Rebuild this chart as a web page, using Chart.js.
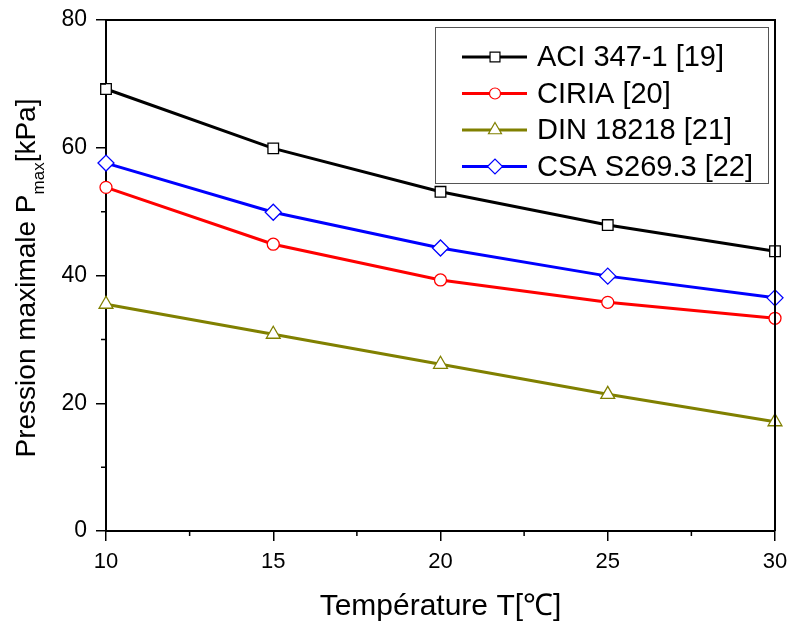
<!DOCTYPE html>
<html>
<head>
<meta charset="utf-8">
<script src="https://cdn.jsdelivr.net/npm/chart.js@4"></script>
<style>
  html, body { margin: 0; padding: 0; background: #fff; }
  #wrap { width: 790px; height: 625px; }
</style>
</head>
<body>
<div id="wrap"><canvas id="pressureChart" width="790" height="625"></canvas></div>
<script>
// Temperature (°C)
const temperatures = [10, 15, 20, 25, 30];

// Maximum pressure Pmax (kPa) per standard
const aci347 = [69.2, 59.9, 53.1, 47.9, 43.8];
const ciria = [53.8, 44.9, 39.3, 35.8, 33.3];
const din18218 = [35.5, 30.8, 26.1, 21.4, 17.1];
const csaS269 = [57.6, 49.9, 44.3, 39.9, 36.5];

const seriesLabels = ["ACI 347-1 [19]", "CIRIA [20]", "DIN 18218 [21]", "CSA S269.3 [22]"];

const xMinorTicks = [12.5, 17.5, 22.5, 27.5];
const yMinorTicks = [10, 30, 50, 70];

const mainFont = "'Liberation Sans', Arial, sans-serif";

function toPoints(values) {
    return temperatures.map((t, i) => ({ x: t, y: values[i] }));
}

function makeSet(label, values, color, style, radius) {
    return {
        label: label,
        data: toPoints(values),
        borderColor: color,
        backgroundColor: "#ffffff",
        borderWidth: 3,
        pointStyle: style,
        pointRadius: radius,
        pointBorderWidth: 1.3,
        pointBorderColor: color,
        pointBackgroundColor: "#ffffff",
        clip: false,
        tension: 0
    };
}

// frame, minor ticks, y title and the boxed legend
const decorations = {
    id: "decorations",
    afterDraw(chart) {
        const ctx = chart.ctx;
        const area = chart.chartArea;
        const xs = chart.scales.x;
        const ys = chart.scales.y;
        ctx.save();

        ctx.strokeStyle = "#000";
        ctx.lineWidth = 2;
        ctx.beginPath();
        ctx.moveTo(area.left, area.top);
        ctx.lineTo(area.right, area.top);
        ctx.lineTo(area.right, area.bottom);
        ctx.stroke();

        ctx.lineWidth = 1.5;
        ctx.beginPath();
        xMinorTicks.forEach(v => {
            let px = xs.getPixelForValue(v);
            ctx.moveTo(px, area.bottom);
            ctx.lineTo(px, area.bottom + 5);
        });
        yMinorTicks.forEach(v => {
            let py = ys.getPixelForValue(v);
            ctx.moveTo(area.left, py);
            ctx.lineTo(area.left - 5, py);
        });
        ctx.stroke();

        // y axis title with subscript
        ctx.save();
        ctx.translate(35, 278);
        ctx.rotate(-Math.PI / 2);
        ctx.fillStyle = "#000";
        ctx.textBaseline = "alphabetic";
        const big = "28px " + mainFont;
        const small = "17px " + mainFont;
        ctx.font = big;
        let w1 = ctx.measureText("Pression maximale P").width;
        let w3 = ctx.measureText("[kPa]").width;
        ctx.font = small;
        let w2 = ctx.measureText("max").width;
        let x0 = -(w1 + w2 + w3) / 2;
        ctx.font = big;
        ctx.fillText("Pression maximale P", x0, 0);
        ctx.font = small;
        ctx.fillText("max", x0 + w1, 9);
        ctx.font = big;
        ctx.fillText("[kPa]", x0 + w1 + w2, 0);
        ctx.restore();

        // legend box
        const box = { left: 435, top: 27, right: 768, bottom: 183 };
        ctx.fillStyle = "#fff";
        ctx.fillRect(box.left, box.top, box.right - box.left, box.bottom - box.top);
        ctx.strokeStyle = "#555";
        ctx.lineWidth = 1;
        ctx.strokeRect(box.left + 0.5, box.top + 0.5, box.right - box.left, box.bottom - box.top);

        chart.data.datasets.forEach((ds, i) => {
            let cy = box.top + 30 + i * 36.5;
            ctx.strokeStyle = ds.borderColor;
            ctx.lineWidth = 3;
            ctx.beginPath();
            ctx.moveTo(462, cy);
            ctx.lineTo(527, cy);
            ctx.stroke();
            ctx.fillStyle = "#fff";
            ctx.lineWidth = 1.2;
            Chart.helpers.drawPoint(ctx, {
                pointStyle: ds.pointStyle,
                radius: ds.pointRadius - 0.5,
                borderWidth: 1.2
            }, 495, cy);
            ctx.fillStyle = "#000";
            ctx.font = "29px " + mainFont;
            ctx.textBaseline = "middle";
            ctx.fillText(ds.label, 537, cy + 1);
        });
        ctx.restore();
    }
};

document.addEventListener("DOMContentLoaded", function () {
    let ctx = document.getElementById("pressureChart").getContext("2d");

    new Chart(ctx, {
        type: "line",
        data: {
            datasets: [
                makeSet(seriesLabels[0], aci347, "#000000", "rect", 7.5),
                makeSet(seriesLabels[1], ciria, "#ff0000", "circle", 6),
                makeSet(seriesLabels[2], din18218, "#808000", "triangle", 8),
                makeSet(seriesLabels[3], csaS269, "#0000ff", "rectRot", 8)
            ]
        },
        options: {
            responsive: false,
            animation: false,
            layout: { padding: { top: 20, right: 15, left: 0, bottom: 0 } },
            plugins: {
                legend: { display: false },
                tooltip: { enabled: false }
            },
            scales: {
                x: {
                    type: "linear",
                    min: 10,
                    max: 30,
                    ticks: {
                        stepSize: 5,
                        color: "#000",
                        padding: 8,
                        font: { family: mainFont, size: 22 }
                    },
                    grid: { drawOnChartArea: false, drawTicks: true, tickLength: 10, color: "#000", lineWidth: 1.5 },
                    border: { display: true, color: "#000", width: 2 },
                    title: {
                        display: true,
                        text: "Température T[℃]",
                        color: "#000",
                        font: { family: mainFont, size: 30 },
                        padding: { top: 6, bottom: 0 }
                    },
                    afterFit(scale) {
                        scale.height = 94;
                        scale.paddingLeft = 0;
                        scale.paddingRight = 0;
                    }
                },
                y: {
                    min: 0,
                    max: 80,
                    ticks: {
                        stepSize: 20,
                        color: "#000",
                        padding: 9,
                        font: { family: mainFont, size: 23 }
                    },
                    grid: { drawOnChartArea: false, drawTicks: true, tickLength: 10, color: "#000", lineWidth: 1.5 },
                    border: { display: true, color: "#000", width: 2 },
                    afterFit(scale) {
                        scale.width = 106;
                        scale.paddingTop = 0;
                        scale.paddingBottom = 0;
                    }
                }
            }
        },
        plugins: [decorations]
    });
});
</script>
</body>
</html>
